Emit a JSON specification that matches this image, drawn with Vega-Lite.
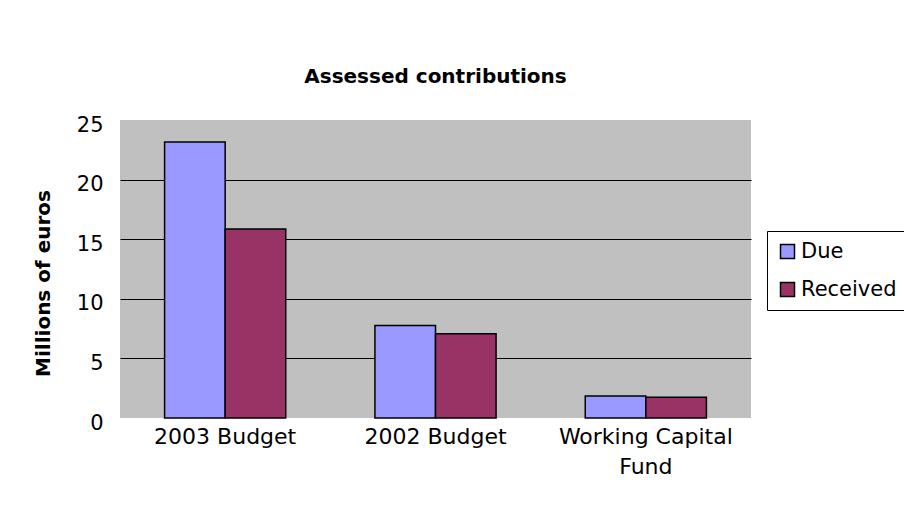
{
  "$schema": "https://vega.github.io/schema/vega-lite/v6.json",
  "width": 631,
  "height": 298,
  "autosize": {"type": "none"},
  "padding": {"left": 120, "top": 120, "right": 153, "bottom": 111},
  "background": "white",
  "title": {
    "text": "Assessed contributions",
    "font": "DejaVu Sans",
    "fontSize": 20,
    "fontWeight": "bold",
    "color": "black",
    "anchor": "middle",
    "offset": 27
  },
  "config": {
    "view": {"fill": "#C0C0C0", "stroke": null},
    "font": "DejaVu Sans"
  },
  "data": {
    "values": [
      {"category": "2003 Budget", "series": "Due", "value": 23.15},
      {"category": "2003 Budget", "series": "Received", "value": 15.85},
      {"category": "2002 Budget", "series": "Due", "value": 7.75},
      {"category": "2002 Budget", "series": "Received", "value": 7.07},
      {"category": "Working Capital Fund", "series": "Due", "value": 1.85},
      {"category": "Working Capital Fund", "series": "Received", "value": 1.74}
    ]
  },
  "mark": {"type": "bar", "stroke": "black", "strokeWidth": 1.5},
  "encoding": {
    "x": {
      "field": "category",
      "type": "nominal",
      "sort": null,
      "scale": {"paddingInner": 0.424, "paddingOuter": 0.212},
      "axis": {
        "title": null,
        "labelAngle": 0,
        "labelFont": "DejaVu Sans",
        "labelFontSize": 22,
        "labelColor": "black",
        "labelPadding": 8,
        "labelLimit": 400,
        "ticks": false,
        "domain": false,
        "labelLineHeight": 30,
        "labelExpr": "datum.label == 'Working Capital Fund' ? ['Working Capital', 'Fund'] : datum.label"
      }
    },
    "xOffset": {"field": "series", "type": "nominal"},
    "y": {
      "field": "value",
      "type": "quantitative",
      "scale": {"domain": [0, 25], "nice": false},
      "axis": {
        "title": "Millions of euros",
        "titleFont": "DejaVu Sans",
        "titleFontSize": 20,
        "titleFontWeight": "bold",
        "titleColor": "black",
        "titleX": -77,
        "titleY": 163,
        "titleBaseline": "middle",
        "titleAlign": "center",
        "titleAngle": -90,
        "values": [0, 5, 10, 15, 20, 25],
        "labelFont": "DejaVu Sans",
        "labelFontSize": 21,
        "labelColor": "black",
        "labelPadding": 17,
        "labelOffset": 5,
        "ticks": false,
        "domain": false,
        "gridColor": "black",
        "gridWidth": 1,
        "gridOpacity": {"condition": {"test": "datum.value == 0 || datum.value == 25", "value": 0}, "value": 1}
      }
    },
    "color": {
      "field": "series",
      "type": "nominal",
      "scale": {"domain": ["Due", "Received"], "range": ["#9999FF", "#993366"]},
      "legend": {
        "title": null,
        "orient": "none",
        "legendX": 647,
        "legendY": 111,
        "padding": 10,
        "fillColor": "white",
        "strokeColor": "black",
        "symbolType": "square",
        "symbolSize": 196,
        "symbolStrokeColor": "black",
        "symbolStrokeWidth": 1.5,
        "labelFont": "DejaVu Sans",
        "labelFontSize": 21,
        "labelColor": "black",
        "labelOffset": 3,
        "rowPadding": 16
      }
    }
  }
}
